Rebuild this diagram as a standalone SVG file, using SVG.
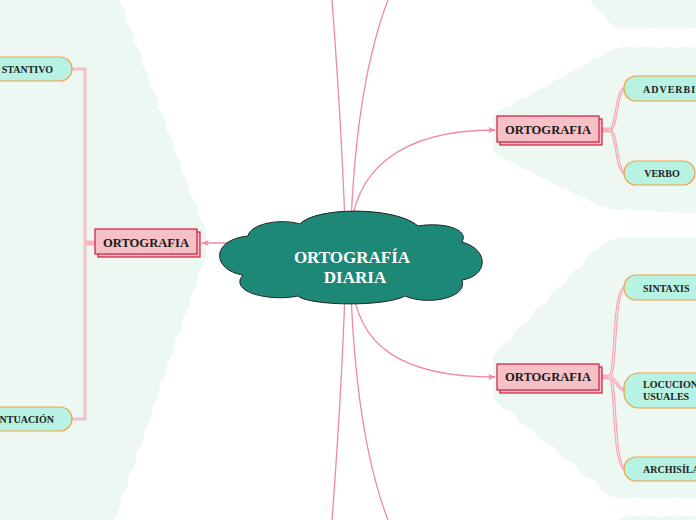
<svg xmlns="http://www.w3.org/2000/svg" width="696" height="520" viewBox="0 0 696 520">
<style>
.blob{fill:#eef8f3;stroke:none}
.conn{fill:none;stroke:#f08a9c;stroke-width:1.3}
.stub{fill:none;stroke:#f5b3be;stroke-width:5}
.br{fill:none;stroke:#f4a6b3;stroke-width:3.2}
.brin{fill:none;stroke:#fde6ea;stroke-width:1}
.lbr{fill:none;stroke:#f6c2ca;stroke-width:3}
.topic{fill:#f6c1c6;stroke:#cf1a3c;stroke-width:1.2}
.ttext{font-family:"Liberation Serif",serif;font-weight:bold;font-size:12.6px;fill:#1a1a1a;text-anchor:middle}
.leaf{fill:#b8f2e2;stroke:#f0a040;stroke-width:1.2}
.ltext{font-family:"Liberation Serif",serif;font-weight:bold;font-size:10px;fill:#222}
.ctext{font-family:"Liberation Serif",serif;font-weight:bold;font-size:17px;fill:#ffffff;text-anchor:middle}
</style>
<defs>
<marker id="arr" viewBox="0 0 10 10" refX="9" refY="5" markerWidth="6" markerHeight="6" orient="auto">
<path d="M0,1 L10,5 L0,9 L3,5 Z" fill="#f08a9c"/>
</marker>
</defs>
<rect width="696" height="520" fill="#ffffff"/>
<g id="backgrounds">
<path class="blob" d="M0,0 H118 a30,30 0 0 1 8,21.6 a30,30 0 0 1 8,21.6 a30,30 0 0 1 8,21.6 a30,30 0 0 1 8,21.6 a30,30 0 0 1 8,21.6 a30,30 0 0 1 8,21.6 a30,30 0 0 1 8,21.6 a30,30 0 0 1 8,21.6 a30,30 0 0 1 8,21.6 a30,30 0 0 1 8,21.6 a30,30 0 0 1 8,21.6 a30,30 0 0 1 0,12 a30,30 0 0 1 -7.75,22.5 a30,30 0 0 1 -7.75,22.5 a30,30 0 0 1 -7.75,22.5 a30,30 0 0 1 -7.75,22.5 a30,30 0 0 1 -7.75,22.5 a30,30 0 0 1 -7.75,22.5 a30,30 0 0 1 -7.75,22.5 a30,30 0 0 1 -7.75,22.5 a30,30 0 0 1 -7.75,22.5 a30,30 0 0 1 -7.75,22.5 a30,30 0 0 1 -7.75,22.5 a30,30 0 0 1 -7.75,22.5 L0,520 Z"/>
<path class="blob" d="M493,152 L493,116 a30,30 0 0 1 17.9,-9.7 a30,30 0 0 1 17.9,-9.7 a30,30 0 0 1 17.9,-9.7 a30,30 0 0 1 17.9,-9.7 a30,30 0 0 1 17.9,-9.7 a30,30 0 0 1 17.9,-9.7 a30,30 0 0 1 17.9,-9.7 a30,30 0 0 1 19.5,0 a30,30 0 0 1 19.5,0 a30,30 0 0 1 19.5,0 a30,30 0 0 1 19.5,0 L696,212 a30,30 0 0 1 -22.75,-1.25 a30,30 0 0 1 -22.75,-1.25 a30,30 0 0 1 -22.75,-1.25 a30,30 0 0 1 -22.75,-1.25 a30,30 0 0 1 -18.67,-9.17 a30,30 0 0 1 -18.67,-9.17 a30,30 0 0 1 -18.67,-9.17 a30,30 0 0 1 -18.67,-9.17 a30,30 0 0 1 -18.67,-9.17 a30,30 0 0 1 -18.67,-9.17 Z"/>
<path class="blob" d="M493,396 L493,358 a30,30 0 0 1 17.8,-18.3 a30,30 0 0 1 17.8,-18.3 a30,30 0 0 1 17.8,-18.3 a30,30 0 0 1 17.8,-18.3 a30,30 0 0 1 17.8,-18.3 a30,30 0 0 1 17.8,-18.3 a30,30 0 0 1 20,-10 a30,30 0 0 1 19.1,0 a30,30 0 0 1 19.1,0 a30,30 0 0 1 19.1,0 a30,30 0 0 1 19.1,0 L696,497 a30,30 0 0 1 -20.25,0 a30,30 0 0 1 -20.25,0 a30,30 0 0 1 -20.25,0 a30,30 0 0 1 -20.25,0 a30,30 0 0 1 -20.33,-16.83 a30,30 0 0 1 -20.33,-16.83 a30,30 0 0 1 -20.33,-16.83 a30,30 0 0 1 -20.33,-16.83 a30,30 0 0 1 -20.33,-16.83 a30,30 0 0 1 -20.33,-16.83 Z"/>
<path class="blob" d="M590,0 H696 V27 a30,30 0 0 1 -20,0 a30,30 0 0 1 -20,0 a30,30 0 0 1 -20,0 a30,30 0 0 1 -20,0 a30,30 0 0 1 -13,-13.5 a30,30 0 0 1 -13,-13.5 Z"/>
<path class="blob" d="M618,520 L625,517 a30,30 0 0 1 17.75,0 a30,30 0 0 1 17.75,0 a30,30 0 0 1 17.75,0 a30,30 0 0 1 17.75,0 L696,520 Z"/>
</g>
<g id="connectors">
<path class="conn" d="M346,258 C344,180 338,80 332,0"/>
<path class="conn" d="M350,258 C352,150 365,60 388,0"/>
<path class="conn" d="M346,258 C344,340 338,440 332,520"/>
<path class="conn" d="M350,258 C352,370 365,460 388,520"/>
<path class="conn" d="M350,240 C352,170 400,130 495,130" marker-end="url(#arr)"/>
<path class="conn" d="M352,280 C356,345 400,377 495,377" marker-end="url(#arr)"/>
<path class="conn" d="M240,243 H202" marker-end="url(#arr)"/>
<path class="stub" d="M86,243 H96"/>
<path class="lbr" d="M72,69 H85 V419 H72"/>
<path class="stub" d="M601,130 H612"/>
<path class="br" d="M609,130 C618,130 615,88 626,88"/>
<path class="br" d="M609,130 C618,130 615,173 626,173"/>
<path class="brin" d="M609,130 C618,130 615,88 626,88"/>
<path class="brin" d="M609,130 C618,130 615,173 626,173"/>
<path class="stub" d="M601,377 H612"/>
<path class="br" d="M609,377 C617,377 612,287 626,287"/>
<path class="br" d="M609,377 C617,377 616,390 626,390"/>
<path class="br" d="M609,377 C617,377 612,469 626,469"/>
<path class="brin" d="M609,377 C617,377 612,287 626,287"/>
<path class="brin" d="M609,377 C617,377 616,390 626,390"/>
<path class="brin" d="M609,377 C617,377 612,469 626,469"/>
</g>
<g id="central">
<path d="M243,275 C212,270 210,240 248,236 C250,224 280,218 300,224 C315,207 395,206 418,226 C440,222 470,228 462,242 C490,250 488,276 462,280 C468,298 428,306 405,296 C385,307 310,306 298,296 C270,302 228,292 243,275 Z" fill="#1e8876" stroke="#222" stroke-width="1"/>
<text class="ctext" x="352" y="263">ORTOGRAFÍA</text>
<text class="ctext" x="355" y="283">DIARIA</text>
</g>
<g id="topic-left">
<rect class="topic" x="98" y="232" width="102" height="25"/>
<rect class="topic" x="95" y="229" width="102" height="25"/>
<text class="ttext" x="146" y="247">ORTOGRAFIA</text>
</g>
<g id="topic-right-top">
<rect class="topic" x="500" y="119" width="102" height="26"/>
<rect class="topic" x="497" y="116" width="102" height="26"/>
<text class="ttext" x="548" y="134">ORTOGRAFIA</text>
</g>
<g id="topic-right-bottom">
<rect class="topic" x="500" y="367" width="102" height="26"/>
<rect class="topic" x="497" y="364" width="102" height="26"/>
<text class="ttext" x="548" y="381">ORTOGRAFIA</text>
</g>
<g id="leaf-sustantivo">
<rect class="leaf" x="-40" y="57" width="112" height="24" rx="12"/>
<text class="ltext" x="53" y="73" text-anchor="end">STANTIVO</text>
</g>
<g id="leaf-puntuacion">
<rect class="leaf" x="-40" y="407" width="112" height="24" rx="12"/>
<text class="ltext" x="54" y="423" text-anchor="end">NTUACIÓN</text>
</g>
<g id="leaf-adverbio">
<rect class="leaf" x="624" y="76" width="100" height="25" rx="12"/>
<text class="ltext" x="643" y="93" letter-spacing="1">ADVERBIO</text>
</g>
<g id="leaf-verbo">
<rect class="leaf" x="624" y="161" width="71" height="24" rx="12"/>
<text class="ltext" x="662" y="177" text-anchor="middle">VERBO</text>
</g>
<g id="leaf-sintaxis">
<rect class="leaf" x="624" y="275" width="100" height="25" rx="12"/>
<text class="ltext" x="643" y="292">SINTAXIS</text>
</g>
<g id="leaf-locuciones">
<rect class="leaf" x="624" y="373" width="100" height="35" rx="15"/>
<text class="ltext" x="643" y="388">LOCUCION</text>
<text class="ltext" x="643" y="400">USUALES</text>
</g>
<g id="leaf-archisilabas">
<rect class="leaf" x="624" y="457" width="100" height="24" rx="12"/>
<text class="ltext" x="643" y="473">ARCHISÍLA</text>
</g>
</svg>
